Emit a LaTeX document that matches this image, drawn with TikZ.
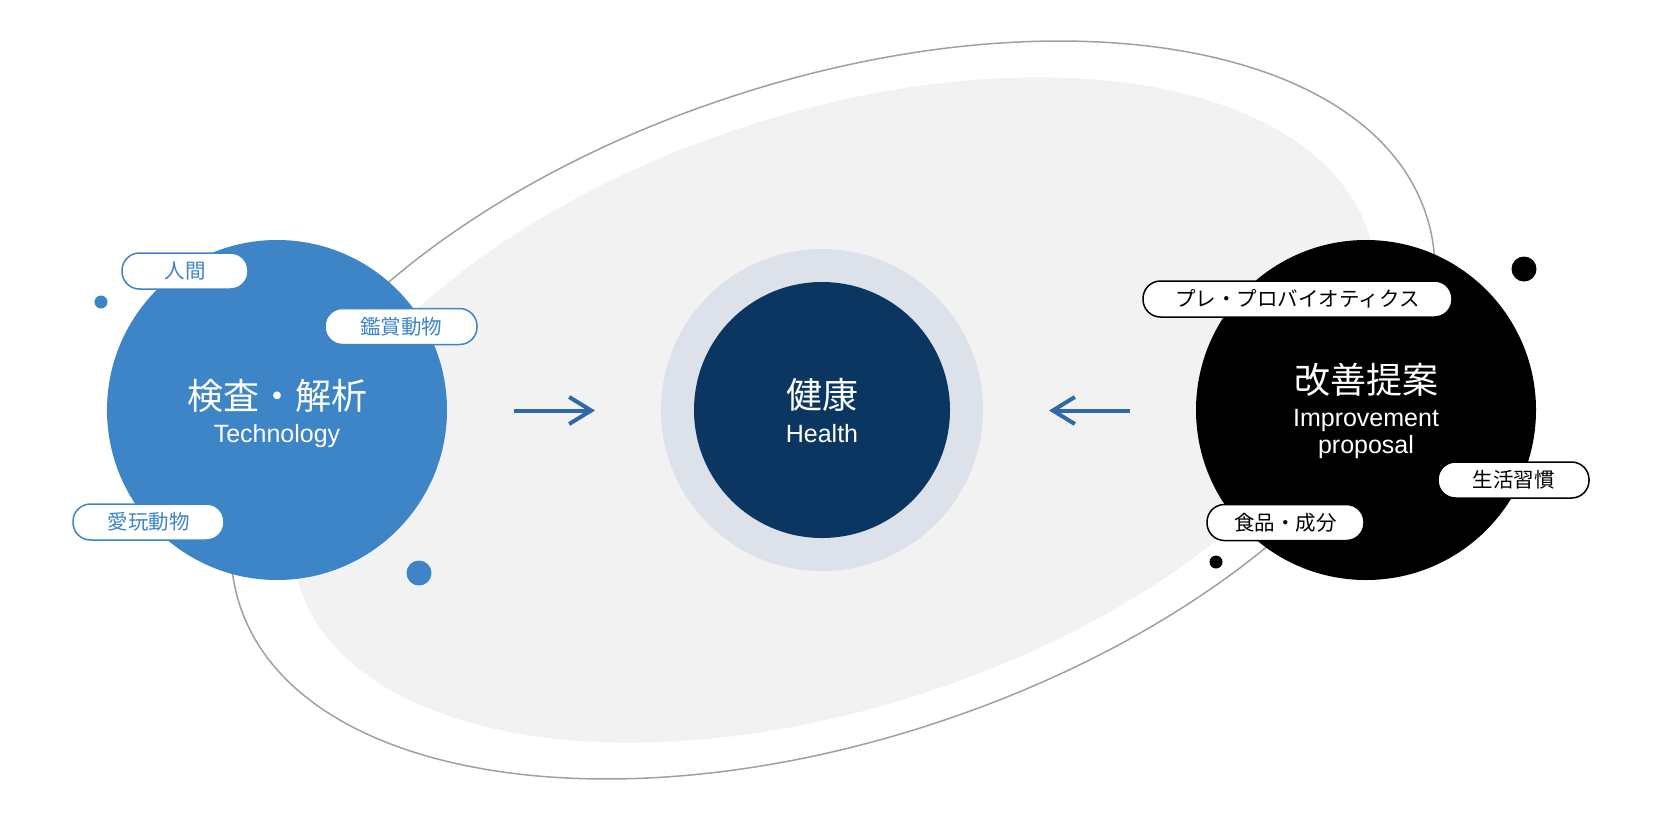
\documentclass[tikz,border=0pt]{standalone}
\usepackage{fontspec}
\setmainfont{Liberation Sans}
\newfontfamily\cjk{Noto Sans CJK JP}
\usetikzlibrary{arrows.meta}
\definecolor{techblue}{RGB}{61,133,198}
\definecolor{navy}{RGB}{10,54,97}
\definecolor{ring}{RGB}{220,225,234}
\definecolor{fillgray}{RGB}{242,242,242}
\definecolor{linegray}{RGB}{160,160,160}
\definecolor{arrowblue}{RGB}{46,106,168}
\begin{document}
\begin{tikzpicture}[x=1pt,y=-1pt,
  pill/.style={draw, fill=white, line width=1.5pt, rounded corners=17.5pt,
    minimum height=36pt, inner sep=0pt, font=\cjk\fontsize{20.5}{24}\selectfont},
  bluepill/.style={pill, draw=techblue, text=techblue},
  blackpill/.style={pill, draw=black, text=black},
  bigcircle/.style={circle, minimum size=340pt, inner sep=0pt},
  titlecjk/.style={anchor=base, text=white, font=\cjk\fontsize{36}{40}\selectfont},
  titlelat/.style={anchor=base, text=white, font=\fontsize{25}{30}\selectfont},
  dot/.style={circle, inner sep=0pt},
  flow/.style={draw=arrowblue, line width=4pt,
    -{Straight Barb[length=22pt, width=27pt, line width=4pt]}}
]
\useasboundingbox (0,0) rectangle (1656,812);
\fill[white] (0,0) rectangle (1656,812);

% background ellipses
\fill[fillgray, rotate around={18.25:(834,410)}] (834,410) ellipse [x radius=563pt, y radius=297pt];
\draw[linegray, line width=1.5pt, rotate around={18.25:(833,410)}] (833,410) ellipse [x radius=624.5pt, y radius=329.4pt];

% health
\node[circle, fill=ring, minimum size=322pt, inner sep=0pt] (ringc) at (822,410) {};
\node[circle, fill=navy, minimum size=256pt, inner sep=0pt] (health) at (822,410) {};
\node[titlecjk] (hj) at (822,408) {健康};
\node[titlelat] (he) at (822,442) {Health};

% technology
\node[bigcircle, fill=techblue] (tech) at (277,410) {};
\node[titlecjk] (tj) at (277,409) {検査・解析};
\node[titlelat] (te) at (277,442) {Technology};

% improvement
\node[bigcircle, fill=black] (impr) at (1366,410) {};
\node[titlecjk] (ij) at (1366,393) {改善提案};
\node[titlelat] (ie1) at (1366,426) {Improvement};
\node[titlelat] (ie2) at (1366,453) {proposal};

% pills
\node[bluepill, minimum width=126pt] (p1) at (185,271) {人間};
\node[bluepill, minimum width=152pt] (p2) at (401,326.5) {鑑賞動物};
\node[bluepill, minimum width=151pt] (p3) at (148.5,522) {愛玩動物};
\node[blackpill, minimum width=309pt] (p4) at (1297.5,299) {プレ・プロバイオティクス};
\node[blackpill, minimum width=151pt] (p5) at (1513.5,480) {生活習慣};
\node[blackpill, minimum width=157pt] (p6) at (1285.5,522.5) {食品・成分};

% dots
\node[dot, fill=techblue, minimum size=13pt] (d1) at (101,302) {};
\node[dot, fill=techblue, minimum size=25pt] (d2) at (419,573) {};
\node[dot, fill=black, minimum size=25pt] (d3) at (1524,269) {};
\node[dot, fill=black, minimum size=13pt] (d4) at (1216,562) {};

% arrows
\coordinate (a1s) at (514,410.5);
\coordinate (a1e) at (595,410.5);
\coordinate (a2s) at (1130,410.5);
\coordinate (a2e) at (1049,410.5);
\draw[flow] (a1s) -- (a1e);
\draw[flow] (a2s) -- (a2e);
\end{tikzpicture}
\end{document}
